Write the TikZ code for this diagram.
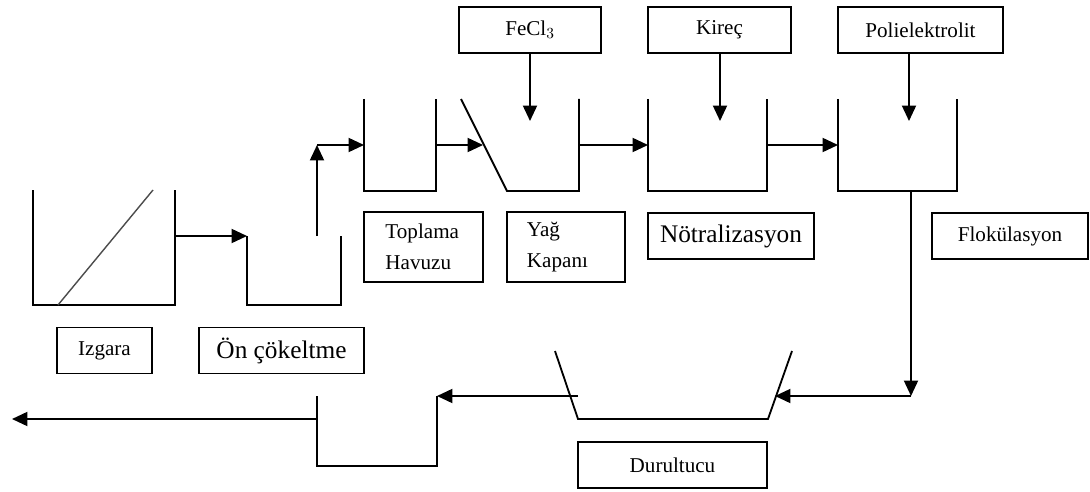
\documentclass[tikz,border=0pt]{standalone}
\usepackage{fontspec}
\setmainfont{Liberation Serif}
\usetikzlibrary{arrows.meta}
\tikzset{
    tank/.style={line width=1.3pt},
    flow/.style={line width=1.3pt,-{Triangle[length=11pt,width=10pt]}},
    lbl/.style={draw,line width=1pt,inner sep=0pt,minimum height=1.15cm,font=\fontsize{15}{22}\selectfont},
    biglbl/.style={lbl,font=\fontsize{18}{22}\selectfont},
}
\begin{document}
\begin{tikzpicture}[x=0.025cm,y=-0.025cm]
        \useasboundingbox (0,0) rectangle (1090,492);

        % tanks
        \draw[tank] (33,190) -- (33,305) -- (175,305) -- (175,190);
        \draw[line width=1pt,gray!60!black] (58,305) -- (153,190);
        \draw[tank] (247,236) -- (247,305) -- (341,305) -- (341,236);
        \draw[tank] (364,99) -- (364,191) -- (436,191) -- (436,99);
        \draw[tank] (461,99) -- (507,191) -- (579,191) -- (579,99);
        \draw[tank] (648,99) -- (648,191) -- (767,191) -- (767,99);
        \draw[tank] (838,99) -- (838,191) -- (957,191) -- (957,99);
        \draw[tank] (555,351) -- (578,419) -- (768,419) -- (792,351);
        \draw[tank] (317,396) -- (317,466) -- (437,466) -- (437,396);

        % points on the walls
        \coordinate (izgOut) at (175,236);
        \coordinate (onIn) at (247,236);
        \coordinate (onUp) at (317,236);
        \coordinate (bend) at (317,145);
        \coordinate (topIn) at (364,145);
        \coordinate (topOut) at (436,145);
        \coordinate (yagIn) at (483,145);
        \coordinate (yagOut) at (579,145);
        \coordinate (notIn) at (648,145);
        \coordinate (notOut) at (767,145);
        \coordinate (flokIn) at (838,145);
        \coordinate (flokOut) at (911,191);
        \coordinate (corner) at (911,396);
        \coordinate (durIn) at (775,396);
        \coordinate (durOut) at (578,396);
        \coordinate (sonIn) at (437,396);
        \coordinate (sonOut) at (317,419);
        \coordinate (cikis) at (12,419);

        % labels
        \node[lbl,minimum width=2.375cm] (izgara) at (104.5,350.5) {Izgara};
        \node[biglbl,minimum width=4.125cm] (on) at (281.5,350.5) {Ön çökeltme};
        \node[lbl,minimum width=2.975cm,minimum height=1.75cm,align=left,text width=1.9cm] (toplama) at (423.5,247) {Toplama\\Havuzu};
        \node[lbl,minimum width=2.95cm,minimum height=1.75cm,align=left,text width=1.95cm] (yag) at (566,247) {Yağ\\Kapanı};
        \node[biglbl,minimum width=4.15cm] (notr) at (731,236) {Nötralizasyon};
        \node[lbl,minimum width=3.9cm] (flok) at (1010,236) {Flokülasyon};
        \node[lbl,minimum width=3.55cm] (fecl) at (530,30) {FeCl$_3$};
        \node[lbl,minimum width=3.575cm] (kirec) at (719.5,30) {Kireç};
        \node[lbl,minimum width=4.125cm] (poli) at (920.5,30) {Polielektrolit};
        \node[lbl,minimum width=4.725cm] (durul) at (672.5,465) {Durultucu};

        % dosing
        \coordinate (feclIn) at (530,121);
        \coordinate (kirecIn) at (720,121);
        \coordinate (poliIn) at (909,121);
        \draw[flow] (fecl.south) -- (feclIn);
        \draw[flow] (kirec.south -| kirecIn) -- (kirecIn);
        \draw[flow] (poli.south -| poliIn) -- (poliIn);

        % flow line
        \draw[flow] (izgOut) -- (onIn);
        \draw[flow] (onUp) -- (bend);
        \draw[flow] (bend) -- (topIn);
        \draw[flow] (topOut) -- (yagIn);
        \draw[flow] (yagOut) -- (notIn);
        \draw[flow] (notOut) -- (flokIn);
        \draw[flow] (flokOut) -- (corner);
        \draw[flow] (corner) -- (durIn);
        \draw[flow] (durOut) -- (sonIn);
        \draw[flow] (sonOut) -- (cikis);

\end{tikzpicture}
\end{document}
